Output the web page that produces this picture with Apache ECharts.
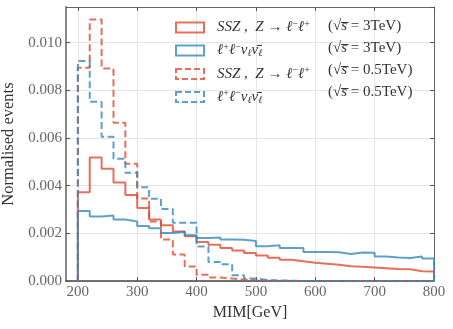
<!DOCTYPE html>
<html><head><meta charset="utf-8">
<script src="https://cdn.jsdelivr.net/npm/echarts@6/dist/echarts.min.js"></script>
<style>html,body{margin:0;padding:0;background:#fff}#c{width:453px;height:329px}</style>
</head><body><div id="c"></div>
<script>
const binStart = [200,220,240,260,280,300,320,340,360,380,400,420,440,460,480,500,520,540,560,580,600,620,640,660,680,700,720,740,760,780];
const binEnd = 800;
const ssz3 = [0.00372,0.00518,0.00471,0.00413,0.00361,0.00306,0.00258,0.00234,0.00208,0.00188,0.00164,0.00152,0.00139,0.00128,0.00117,0.00107,0.00098,0.00089,0.00083,0.00077,0.00072,0.00068,0.00062,0.00060,0.00057,0.00054,0.00050,0.00049,0.00041,0.00040];
const ll3 = [0.00294,0.00271,0.00275,0.00258,0.00250,0.00231,0.00221,0.00201,0.00207,0.00192,0.00180,0.00183,0.00174,0.00173,0.00168,0.00146,0.00150,0.00139,0.00139,0.00122,0.00122,0.00121,0.00113,0.00120,0.00119,0.00103,0.00099,0.00097,0.00103,0.00094];
const ssz05 = [0.00895,0.01098,0.00892,0.00664,0.00492,0.00346,0.00250,0.00174,0.00111,0.00061,0.00026,0.00015,0.00010,0.00006,0.00003,0.00002,0.00001,0.00001,0,0,0,0,0,0,0,0,0,0,0,0];
const ll05 = [0.00923,0.00752,0.00605,0.00513,0.00454,0.00393,0.00345,0.00302,0.00244,0.00244,0.00145,0.00080,0.00070,0.00024,0.00010,0.00004,0.00002,0.00001,0,0,0,0,0,0,0,0,0,0,0,0];
const xTicks = [200,300,400,500,600,700,800];

const RED = 'rgba(226,74,51,0.8)';
const BLUE = 'rgba(52,138,189,0.8)';
const SERIF = 'Liberation Serif';

function hist(vals){
  const pts = [[binStart[0],0]];
  for (let i=0;i<vals.length;i++) pts.push([binStart[i], vals[i]]);
  pts.push([binEnd, vals[vals.length-1]]);
  pts.push([binEnd, 0]);
  return pts;
}
function ser(name, vals, color, dashed){
  return {name, type:'line', step:'end', data:hist(vals), showSymbol:false, symbol:'none',
    lineStyle:{color, width:2, type: dashed ? [7,3.5] : 'solid'}, itemStyle:{color}};
}
const rich = {
  it:{fontFamily:SERIF, fontStyle:'italic', fontSize:15, color:'#333', lineHeight:16},
  rm:{fontFamily:SERIF, fontSize:15, color:'#333', lineHeight:16},
  sup:{fontFamily:SERIF, fontSize:10, color:'#333', padding:[0,0,7,0]},
  sub:{fontFamily:SERIF, fontStyle:'italic', fontSize:10, color:'#333', padding:[6,0,0,0]}
};
const firstText = {
  ssz3:'{it|SSZ}{rm| ,  }{it|Z}{rm| → }{it|ℓ}{sup|−}{it|ℓ}{sup|+}',
  ll3:'{it|ℓ}{sup|+}{it|ℓ}{sup|−}{it|ν}{sub|ℓ}{it|ν̄}{sub|ℓ}',
  ssz05:'{it|SSZ}{rm| ,  }{it|Z}{rm| → }{it|ℓ}{sup|−}{it|ℓ}{sup|+}',
  ll05:'{it|ℓ}{sup|+}{it|ℓ}{sup|−}{it|ν}{sub|ℓ}{it|ν̄}{sub|ℓ}'
};
const secondText = {
  ssz3:'{rm|(√}{it|s̅}{rm| = 3TeV)}',
  ll3:'{rm|(√}{it|s̅}{rm| = 3TeV)}',
  ssz05:'{rm|(√}{it|s̅}{rm| = 0.5TeV)}',
  ll05:'{rm|(√}{it|s̅}{rm| = 0.5TeV)}'
};
const chart = echarts.init(document.getElementById('c'), null, {renderer:'canvas'});
const tickStyle = {show:true, inside:true, length:4, lineStyle:{color:'#555', width:1}};
chart.setOption({
  animation:false,
  backgroundColor:'#fff',
  grid:{left:66, right:19, top:7, bottom:48, containLabel:false, outerBoundsMode:'none'},
  legend:[{
    selectedMode:false, orient:'vertical', left:170, top:14, itemGap:7,
    icon:'rect', itemWidth:28, itemHeight:10,
    textStyle:{rich, padding:[0,0,0,8]},
    formatter: n => firstText[n],
    data:[
      {name:'ssz3', itemStyle:{color:'transparent', borderColor:RED, borderWidth:2, borderType:'solid'}},
      {name:'ll3', itemStyle:{color:'transparent', borderColor:BLUE, borderWidth:2, borderType:'solid'}},
      {name:'ssz05', itemStyle:{color:'transparent', borderColor:RED, borderWidth:2, borderType:[6,3]}},
      {name:'ll05', itemStyle:{color:'transparent', borderColor:BLUE, borderWidth:2, borderType:[6,3]}}
    ]
  },{
    selectedMode:false, orient:'vertical', left:318, top:14, itemGap:7,
    icon:'rect', itemWidth:0, itemHeight:10,
    itemStyle:{color:'transparent', borderWidth:0},
    textStyle:{rich},
    formatter: n => secondText[n],
    data:['ssz3','ll3','ssz05','ll05']
  }],
  xAxis:[{
    type:'value', min:180, max:800, position:'bottom',
    name:'MIM[GeV]', nameLocation:'middle', nameGap:22,
    nameTextStyle:{fontFamily:SERIF, fontSize:16, color:'#333'},
    axisLine:{show:true, onZero:false, lineStyle:{color:'#444', width:1.5}},
    axisTick:Object.assign({customValues:xTicks}, tickStyle),
    axisLabel:{customValues:xTicks, fontFamily:SERIF, fontSize:15, color:'#666', margin:4},
    splitLine:{show:true, lineStyle:{color:'#e6e6e6', width:1}}
  },{
    type:'value', min:180, max:800, position:'top',
    axisLine:{show:true, onZero:false, lineStyle:{color:'#666', width:1}},
    axisTick:Object.assign({customValues:xTicks}, tickStyle),
    axisLabel:{show:false}, splitLine:{show:false}
  }],
  yAxis:[{
    type:'value', min:0, max:0.0115, interval:0.002, position:'left',
    name:'Normalised events', nameLocation:'middle', nameGap:46,
    nameTextStyle:{fontFamily:SERIF, fontSize:16.5, color:'#333'},
    axisLine:{show:true, lineStyle:{color:'#888', width:2}},
    axisTick:tickStyle,
    axisLabel:{fontFamily:SERIF, fontSize:15, color:'#666', margin:4, showMaxLabel:false,
      formatter: v => v.toFixed(3)},
    splitLine:{show:true, lineStyle:{color:'#e6e6e6', width:1}}
  },{
    type:'value', min:0, max:0.0115, interval:0.002, position:'right',
    axisLine:{show:true, lineStyle:{color:'#666', width:1}},
    axisTick:tickStyle, axisLabel:{show:false}, splitLine:{show:false}
  }],
  series:[
    ser('ssz3', ssz3, RED, false),
    ser('ll3', ll3, BLUE, false),
    ser('ssz05', ssz05, RED, true),
    ser('ll05', ll05, BLUE, true)
  ]
});
</script></body></html>
